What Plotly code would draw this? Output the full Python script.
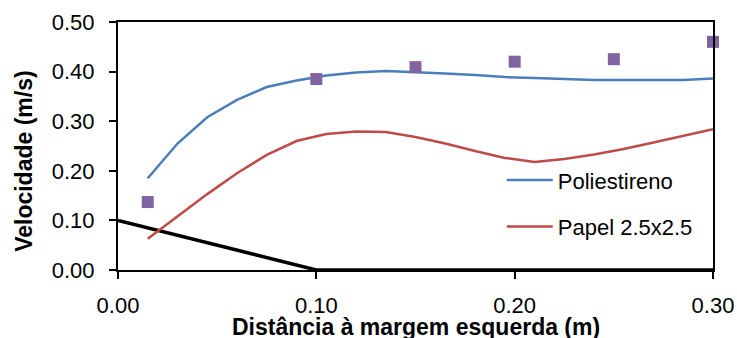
import plotly.graph_objects as go

x_lines = [0.015, 0.03, 0.045, 0.06, 0.075, 0.09, 0.105, 0.12, 0.135, 0.15,
           0.165, 0.18, 0.195, 0.21, 0.225, 0.24, 0.255, 0.27, 0.285, 0.30]
poliestireno = [0.185, 0.255, 0.308, 0.343, 0.369, 0.382, 0.392, 0.398, 0.401, 0.399,
                0.396, 0.393, 0.389, 0.387, 0.385, 0.383, 0.383, 0.383, 0.383, 0.386]
papel = [0.063, 0.108, 0.153, 0.195, 0.232, 0.260, 0.274, 0.279, 0.278, 0.268,
         0.255, 0.240, 0.226, 0.218, 0.224, 0.233, 0.244, 0.257, 0.270, 0.284]
x_medido = [0.015, 0.10, 0.15, 0.20, 0.25, 0.30]
v_medido = [0.137, 0.385, 0.409, 0.420, 0.425, 0.460]
x_margem = [0.0, 0.10, 0.30]
v_margem = [0.10, 0.0, 0.0]

x_ticks = [0.0, 0.1, 0.2, 0.3]
x_ticklabels = ["0.00", "0.10", "0.20", "0.30"]
y_ticks = [0.0, 0.1, 0.2, 0.3, 0.4, 0.5]
y_ticklabels = ["0.00", "0.10", "0.20", "0.30", "0.40", "0.50"]
x_title = "Distância à margem esquerda (m)"
y_title = "Velocidade (m/s)"

FONT = "Liberation Sans, Arial, sans-serif"

fig = go.Figure()
fig.add_trace(go.Scatter(x=x_margem, y=v_margem, mode="lines",
                         line=dict(color="black", width=3.5), showlegend=False))
fig.add_trace(go.Scatter(x=x_lines, y=poliestireno, mode="lines", name="Poliestireno",
                         line=dict(color="#4A7EBB", width=2.5), legendgroup="a"))
fig.add_trace(go.Scatter(x=x_lines, y=papel, mode="lines", name="Papel 2.5x2.5",
                         line=dict(color="#BE4B48", width=2.5), legendgroup="b"))
fig.add_trace(go.Scatter(x=x_medido, y=v_medido, mode="markers", showlegend=False,
                         marker=dict(symbol="square", size=12, color="#8064A2"),
                         cliponaxis=False))

fig.update_layout(
    width=737, height=338,
    margin=dict(l=118, r=24, t=22, b=68, autoexpand=False),
    paper_bgcolor="white", plot_bgcolor="white",
    font=dict(family=FONT, size=22, color="black"),
    showlegend=True,
    legend=dict(x=0.645, y=0.447, xanchor="left", yanchor="top",
                bgcolor="rgba(0,0,0,0)", itemwidth=46, tracegroupgap=15,
                font=dict(size=22)),
    xaxis=dict(range=[0, 0.3], tickvals=x_ticks, ticktext=x_ticklabels,
               showgrid=False, zeroline=False, showline=True, linecolor="black",
               linewidth=2, mirror=True, ticks="outside", ticklen=7, tickwidth=2,
               tickcolor="black", ticklabelstandoff=8),
    yaxis=dict(range=[0, 0.5], tickvals=y_ticks, ticktext=y_ticklabels,
               showgrid=False, zeroline=False, showline=True, linecolor="black",
               linewidth=2, mirror=True, ticks="outside", ticklen=7, tickwidth=2,
               tickcolor="black", ticklabelstandoff=10),
    annotations=[
        dict(text="<b>" + x_title + "</b>", xref="paper", yref="paper",
             x=0.5, y=-0.228, xanchor="center", yanchor="middle",
             showarrow=False, font=dict(size=23)),
        dict(text="<b>" + y_title + "</b>", xref="paper", yref="paper",
             x=-0.158, y=0.44, xanchor="center", yanchor="middle", textangle=-90,
             showarrow=False, font=dict(size=23)),
    ],
)

fig.write_html("out.html")
